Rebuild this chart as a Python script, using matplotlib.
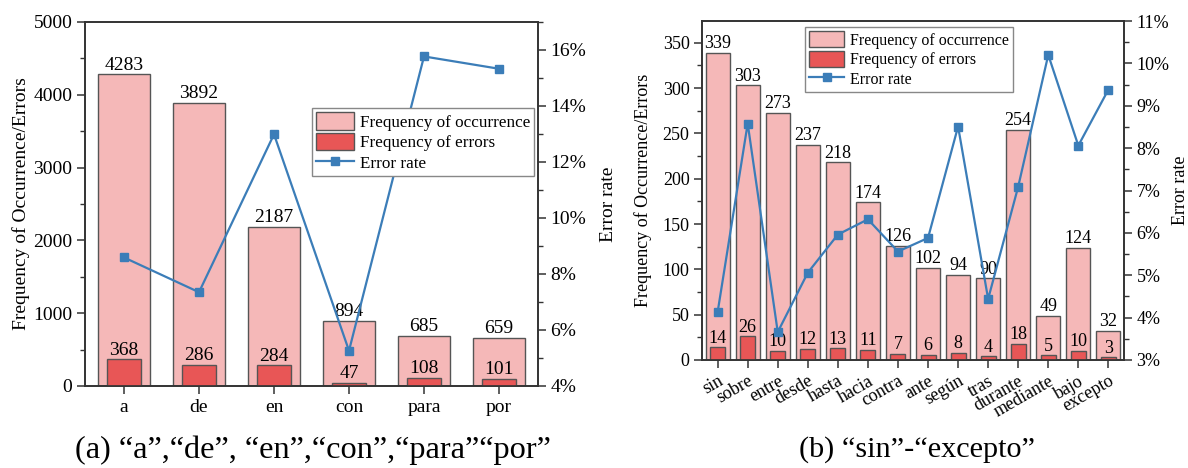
import matplotlib
matplotlib.use("Agg")
import matplotlib.pyplot as plt
from matplotlib.patches import Patch
from matplotlib.lines import Line2D
from matplotlib.ticker import MultipleLocator, FuncFormatter

plt.rcParams['font.family'] = ['Liberation Serif', 'DejaVu Serif']

# ---- data (a) ----
cats_a = ["a", "de", "en", "con", "para", "por"]
occ_a = [4283, 3892, 2187, 894, 685, 659]
err_a = [368, 286, 284, 47, 108, 101]
rate_a = [8.59, 7.35, 12.99, 5.26, 15.77, 15.33]

# ---- data (b) ----
cats_b = ["sin", "sobre", "entre", "desde", "hasta", "hacia", "contra", "ante",
          "según", "tras", "durante", "mediante", "bajo", "excepto"]
occ_b = [339, 303, 273, 237, 218, 174, 126, 102, 94, 90, 254, 49, 124, 32]
err_b = [14, 26, 10, 12, 13, 11, 7, 6, 8, 4, 18, 5, 10, 3]
rate_b = [4.13, 8.58, 3.66, 5.06, 5.96, 6.32, 5.56, 5.88, 8.51, 4.44, 7.09, 10.20, 8.06, 9.38]

OCC_C = "#F5B8B8"
ERR_C = "#E85656"
LINE_C = "#3B7DB8"
EDGE_C = "#555555"
SPINE_C = "#333333"

W, H = 1188, 468
fig = plt.figure(figsize=(W / 100, H / 100), dpi=100)


def px_axes(l, t, r, b):
    return fig.add_axes([l / W, (H - b) / H, (r - l) / W, (b - t) / H])


def style(ax, ax2, fs):
    for a in (ax, ax2):
        for s in a.spines.values():
            s.set_color(SPINE_C)
            s.set_linewidth(1.2)
        a.tick_params(direction='out', length=6, width=1.1, colors=SPINE_C,
                      labelsize=fs, labelcolor='black', pad=3)
        a.tick_params(which='minor', direction='out', length=3.5, width=1.0, colors=SPINE_C)
    ax.tick_params(axis='y', which='both', right=False)
    ax.tick_params(axis='x', which='both', top=False)
    ax2.tick_params(axis='x', which='both', top=False, bottom=False)


def draw(ax, cats, occ, err, rate, wo, we, fs):
    x = list(range(len(cats)))
    ax.bar(x, occ, width=wo, color=OCC_C, edgecolor=EDGE_C, linewidth=1.0, zorder=2)
    ax.bar(x, err, width=we, color=ERR_C, edgecolor=EDGE_C, linewidth=1.0, zorder=3)
    for xi, v in zip(x, occ):
        ax.annotate(str(v), (xi, v), xytext=(0, 0.5), textcoords='offset points',
                    ha='center', va='bottom', fontsize=fs, zorder=4)
    for xi, v in zip(x, err):
        ax.annotate(str(v), (xi, v), xytext=(0, 0.5), textcoords='offset points',
                    ha='center', va='bottom', fontsize=fs, zorder=4)
    ax.set_xticks(x)
    ax.set_xlim(-0.52, len(cats) - 0.48)
    ax2 = ax.twinx()
    ax2.plot(x, rate, color=LINE_C, linewidth=1.6, marker='s', markersize=6,
             markerfacecolor=LINE_C, markeredgecolor=LINE_C, zorder=5)
    ax2.yaxis.set_major_formatter(FuncFormatter(lambda v, p: f"{v:.0f}%"))
    return ax2


# ---------- (a) ----------
axA = px_axes(85, 22, 538, 386)
axA2 = draw(axA, cats_a, occ_a, err_a, rate_a, 0.7, 0.45, 14)
axA.set_xticklabels(cats_a)
axA.set_ylim(0, 5000)
axA.yaxis.set_major_locator(MultipleLocator(1000))
axA.yaxis.set_minor_locator(MultipleLocator(500))
axA2.set_ylim(4, 17)
axA2.yaxis.set_major_locator(MultipleLocator(2))
axA2.yaxis.set_minor_locator(MultipleLocator(1))
axA.set_ylabel("Frequency of Occurrence/Errors", fontsize=14)
axA2.set_ylabel("Error rate", fontsize=14)
axA.yaxis.set_label_coords(-0.122, 0.5)
axA2.yaxis.set_label_coords(1.136, 0.5)
style(axA, axA2, 14)

# ---------- (b) ----------
axB = px_axes(702, 21, 1124, 360)
axB2 = draw(axB, cats_b, occ_b, err_b, rate_b, 0.8, 0.5, 13)
axB.set_xticklabels(cats_b, rotation=30, ha='right', rotation_mode='anchor')
axB.set_ylim(0, 374)
axB.yaxis.set_major_locator(MultipleLocator(50))
axB.yaxis.set_minor_locator(MultipleLocator(25))
axB2.set_ylim(3, 11)
axB2.yaxis.set_major_locator(MultipleLocator(1))
axB2.yaxis.set_minor_locator(MultipleLocator(0.5))
axB.set_ylabel("Frequency of Occurrence/Errors", fontsize=13)
axB2.set_ylabel("Error rate", fontsize=13)
axB.yaxis.set_label_coords(-0.118, 0.5)
axB2.yaxis.set_label_coords(1.114, 0.5)
style(axB, axB2, 13)

handles = [Patch(facecolor=OCC_C, edgecolor=EDGE_C, linewidth=1.0),
           Patch(facecolor=ERR_C, edgecolor=EDGE_C, linewidth=1.0),
           Line2D([], [], color=LINE_C, linewidth=1.6, marker='s', markersize=6)]
labels = ["Frequency of occurrence", "Frequency of errors", "Error rate"]

for a2, anchor, fs in ((axA2, (0.501, 0.764), 12.3), (axB2, (0.244, 0.982), 11.5)):
    leg = a2.legend(handles, labels, loc='upper left', bbox_to_anchor=anchor,
                    borderaxespad=0, fontsize=fs, frameon=True, fancybox=False,
                    framealpha=1, edgecolor='#888888', handlelength=2.2,
                    handleheight=1.2, handletextpad=0.35, labelspacing=0.12,
                    borderpad=0.25)
    leg.get_frame().set_linewidth(1.0)
    leg.set_zorder(10)

# captions
fig.text(313 / W, 1 - 450 / H, "(a) \u201ca\u201d,\u201cde\u201d, \u201cen\u201d,\u201ccon\u201d,\u201cpara\u201d\u201cpor\u201d",
         ha='center', va='center', fontsize=23.3)
fig.text(917 / W, 1 - 450 / H, "(b) \u201csin\u201d-\u201cexcepto\u201d",
         ha='center', va='center', fontsize=21.8)

fig.savefig("out.png", dpi=100)
